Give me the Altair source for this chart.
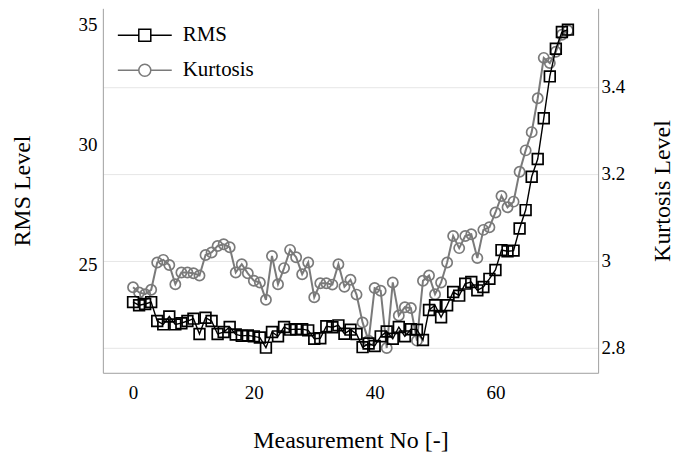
import altair as alt
import pandas as pd

measurement = list(range(73))
rms = [23.43, 23.30, 23.35, 23.43, 22.64, 22.50, 22.83, 22.50, 22.55, 22.64,
       22.74, 22.10, 22.78, 22.64, 22.10, 22.18, 22.39, 22.08, 22.02, 22.04,
       22.00, 21.95, 21.53, 22.18, 22.00, 22.39, 22.28, 22.30, 22.30, 22.25,
       21.90, 21.92, 22.42, 22.38, 22.46, 22.11, 22.28, 22.10, 21.55, 21.70,
       21.60, 22.00, 22.20, 21.90, 22.39, 22.00, 22.30, 22.28, 21.85, 23.10,
       23.30, 22.80, 23.30, 23.85, 23.70, 24.20, 24.27, 23.92, 24.06, 24.40,
       24.77, 25.60, 25.55, 25.58, 26.50, 27.27, 28.66, 29.40, 31.10, 32.85,
       34.00, 34.70, 34.80]
kurtosis = [2.939, 2.927, 2.923, 2.933, 2.996, 3.002, 2.990, 2.946, 2.973, 2.973,
            2.971, 2.966, 3.013, 3.019, 3.034, 3.038, 3.031, 2.973, 2.992, 2.971,
            2.954, 2.950, 2.910, 3.011, 2.946, 2.983, 3.025, 3.008, 2.969, 2.996,
            2.916, 2.948, 2.948, 2.945, 2.992, 2.940, 2.956, 2.922, 2.858, 2.816,
            2.937, 2.931, 2.799, 2.950, 2.874, 2.893, 2.891, 2.816, 2.954, 2.966,
            2.923, 2.950, 2.996, 3.057, 3.029, 3.057, 3.061, 3.006, 3.071, 3.077,
            3.111, 3.149, 3.123, 3.136, 3.205, 3.254, 3.296, 3.374, 3.467, 3.455,
            3.481, 3.520, 3.530]
series_names = ["RMS", "Kurtosis"]
x_ticks = [0, 20, 40, 60]
rms_ticks = [25, 30, 35]
kurt_ticks = [2.8, 3.0, 3.2, 3.4]

df_rms = pd.DataFrame({"Measurement": measurement, "value": rms, "series": "RMS"})
df_k = pd.DataFrame({"Measurement": measurement, "value": kurtosis, "series": "Kurtosis"})

FONT = "Liberation Serif"
GRAY = "#7a7a7a"
AXIS_GRAY = "#a0a0a0"

x_enc = alt.X("Measurement:Q",
              scale=alt.Scale(domain=[-5, 77], nice=False, zero=False),
              axis=alt.Axis(values=x_ticks, title="Measurement No [-]", grid=False,
                            ticks=False, domainColor=AXIS_GRAY, labelPadding=11,
                            titlePadding=26, labelFont=FONT, titleFont=FONT))

y_rms = alt.Y("value:Q",
              scale=alt.Scale(domain=[20.48, 35.69], nice=False, zero=False),
              axis=alt.Axis(values=rms_ticks, title="RMS Level", orient="left",
                            grid=False, ticks=False, domainColor=AXIS_GRAY,
                            labelPadding=6, titlePadding=43,
                            labelFont=FONT, titleFont=FONT))

y_k = alt.Y("value:Q",
            scale=alt.Scale(domain=[2.742, 3.581], nice=False, zero=False),
            axis=alt.Axis(values=kurt_ticks, title="Kurtosis Level", orient="right",
                          format="~g", grid=True, gridColor="#e6e6e6", gridWidth=1,
                          ticks=False, domainColor=AXIS_GRAY, labelPadding=3,
                          titlePadding=26, titleAngle=-90, titleBaseline="top",
                          labelFont=FONT, titleFont=FONT))

color_scale = alt.Scale(domain=series_names, range=["black", GRAY])

# legend glyph: line with marker; path units = sqrt(symbolSize)/2 = 10px
sq_path = "M-2.7,0H-0.6M0.6,0H2.7M-0.6,-0.6H0.6V0.6H-0.6Z"
ci_path = "M-2.7,0H-0.6A0.6,0.6 0 1,1 0.6,0A0.6,0.6 0 1,1 -0.6,0M0.6,0H2.7"

legend = alt.Legend(
    title=None, orient="none", legendX=31, legendY=16,
    symbolSize=400, symbolStrokeWidth=1.5, labelFont=FONT, labelFontSize=21,
    labelColor="black", rowPadding=14, labelOffset=27, padding=0,
    symbolType=alt.ExprRef(f"datum.value === 'RMS' ? '{sq_path}' : '{ci_path}'"),
)

rms_line = alt.Chart(df_rms).mark_line(color="black", strokeWidth=1.4).encode(x=x_enc, y=y_rms)
rms_pts = alt.Chart(df_rms).mark_point(shape="square", filled=False, size=115,
                                       strokeWidth=1.7, opacity=1).encode(
    x=x_enc, y=y_rms, color=alt.Color("series:N", scale=color_scale, legend=legend))

k_line = alt.Chart(df_k).mark_line(color=GRAY, strokeWidth=2).encode(x=x_enc, y=y_k)
k_pts = alt.Chart(df_k).mark_point(shape="circle", filled=False, size=105,
                                   strokeWidth=1.7, opacity=1).encode(
    x=x_enc, y=y_k, color=alt.Color("series:N", scale=color_scale, legend=legend))

chart = alt.layer(
    alt.layer(k_line, k_pts),
    alt.layer(rms_line, rms_pts),
).resolve_scale(y="independent").properties(
    width=496, height=365,
    padding={"left": 95, "top": 0, "right": 82, "bottom": 80},
    autosize=alt.AutoSizeParams(type="none"),
).configure_view(stroke=None).configure_axis(
    labelFont=FONT, titleFont=FONT, labelFontSize=19, titleFontSize=24,
    titleFontWeight="normal", labelColor="black", titleColor="black",
).configure_legend(labelFont=FONT)

chart.save("out.html", embed_options={"renderer": "svg", "actions": False})
